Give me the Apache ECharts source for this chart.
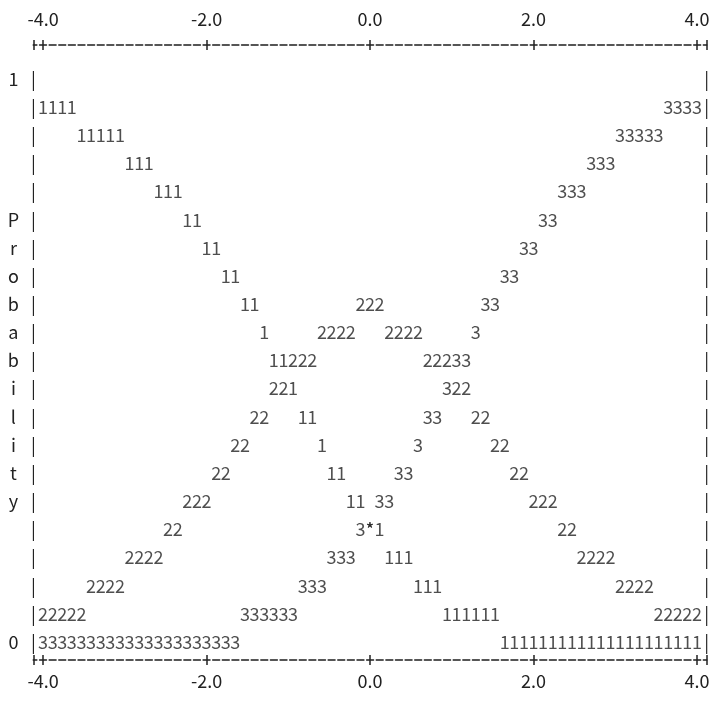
<!DOCTYPE html>
<html>
<head>
<meta charset="utf-8">
<script src="https://cdn.jsdelivr.net/npm/echarts@6/dist/echarts.min.js"></script>
<style>
html, body { margin: 0; padding: 0; background: #fff; }
#chart { width: 714px; height: 721px; }
</style>
</head>
<body>
<div id="chart"></div>
<script>
// probability of each level, one value per character column from -4.0 to 4.0
const prob1 = [0.95,0.95,0.95,0.95, 0.90,0.90,0.90,0.90,0.90, 0.85,0.85,0.85, 0.80,0.80,0.80,
  0.75,0.75, 0.70,0.70, 0.65,0.65, 0.60,0.60, 0.55, 0.50,0.50, 0.45, 0.40,0.40, 0.35,
  0.30,0.30, 0.25,0.25, 0.20,0.20, 0.15,0.15,0.15, 0.10,0.10,0.10,
  0.05,0.05,0.05,0.05,0.05,0.05,
  0,0,0,0,0,0,0,0,0,0,0,0,0,0,0,0,0,0,0,0,0];
const prob2 = [0.05,0.05,0.05,0.05,0.05, 0.10,0.10,0.10,0.10, 0.15,0.15,0.15,0.15, 0.20,0.20,
  0.25,0.25,0.25, 0.30,0.30, 0.35,0.35, 0.40,0.40, 0.45,0.45, 0.50,0.50,0.50,
  0.55,0.55,0.55,0.55, 0.60,0.60,0.60, 0.55,0.55,0.55,0.55, 0.50,0.50,0.50,
  0.45,0.45, 0.40,0.40, 0.35,0.35, 0.30,0.30, 0.25,0.25,0.25, 0.20,0.20,
  0.15,0.15,0.15,0.15, 0.10,0.10,0.10,0.10, 0.05,0.05,0.05,0.05,0.05];
const prob3 = [0,0,0,0,0,0,0,0,0,0,0,0,0,0,0,0,0,0,0,0,0,
  0.05,0.05,0.05,0.05,0.05,0.05, 0.10,0.10,0.10, 0.15,0.15,0.15, 0.20,0.20,
  0.25,0.25, 0.30,0.30, 0.35, 0.40,0.40, 0.45, 0.50,0.50, 0.55, 0.60,0.60,
  0.65,0.65, 0.70,0.70, 0.75,0.75, 0.80,0.80,0.80, 0.85,0.85,0.85,
  0.90,0.90,0.90,0.90,0.90, 0.95,0.95,0.95,0.95];
const xTicks = [-4, -2, 0, 2, 4];
const yRowLabels = ['1','','','','','P','r','o','b','a','b','i','l','i','t','y','','','','','0'];

const nCol = prob1.length;
const xCell = 8 / (nCol - 1);          // width of one character column
const xCols = prob1.map((_, j) => -4 + j * xCell);
const xMin = -4 - xCell, xMax = 4 + xCell;
const frameTicks = [xMin].concat(xTicks, [xMax]);

const font = '"Noto Sans CJK JP", sans-serif';
const ink = '#222';
const fs = 18;

const chart = echarts.init(document.getElementById('chart'));

function plotSeries(sym, p, others) {
  return {
    type: 'scatter',
    name: sym,
    data: p.map((v, j) => [xCols[j], v]),
    symbolSize: 1,
    itemStyle: { color: 'rgba(0,0,0,0)' },
    silent: true,
    label: {
      show: true, position: 'inside', color: ink, fontFamily: font, fontSize: fs,
      // two levels landing in one cell print as *
      formatter: d => others.some(o => o[d.dataIndex] === p[d.dataIndex]) ? '*' : sym
    }
  };
}

function frameAxis(pos, offset, inside, main, margin) {
  return {
    type: 'value', position: pos, offset: offset, min: xMin, max: xMax,
    axisLine: { show: main, onZero: false,
                lineStyle: { color: '#555', width: 1.8, type: [6.6, 3.02], dashOffset: 3.3 } },
    axisTick: { show: true, inside: inside, length: 5, customValues: frameTicks,
                lineStyle: { color: '#222', width: 1.5 } },
    axisLabel: { show: main, customValues: xTicks, margin: margin, color: ink,
                 fontFamily: font, fontSize: fs, formatter: v => v.toFixed(1) },
    splitLine: { show: false }
  };
}

function frameRows(pos, withName) {
  return {
    type: 'value', position: pos, min: 0, max: 1, interval: 0.05,
    axisLine: { show: false }, axisTick: { show: false }, splitLine: { show: false },
    axisLabel: {
      margin: -5, color: ink, fontFamily: font, fontSize: fs,
      formatter: v => {
        const k = Math.round((1 - v) / 0.05);
        return withName ? '{l|' + (yRowLabels[k] || ' ') + '}{s| }{b||}' : '{b||}';
      },
      rich: {
        l: { width: 10, align: 'center' },
        s: { width: 10 },
        b: { width: 10, align: 'center' }
      }
    }
  };
}

chart.setOption({
  backgroundColor: '#fff',
  animation: false,
  textStyle: { fontFamily: font },
  grid: { left: 33.4, right: 7.4, top: 79, bottom: 79, outerBoundsMode: 'none' },
  xAxis: [
    frameAxis('bottom', 18, false, true, 12),
    frameAxis('bottom', 18, true, false, 0),
    frameAxis('top', 34, false, true, 17),
    frameAxis('top', 34, true, false, 0)
  ],
  yAxis: [frameRows('left', true), frameRows('right', false)],
  series: [
    plotSeries('1', prob1, [prob2, prob3]),
    plotSeries('2', prob2, [prob1, prob3]),
    plotSeries('3', prob3, [prob1, prob2])
  ]
});
</script>
</body>
</html>
